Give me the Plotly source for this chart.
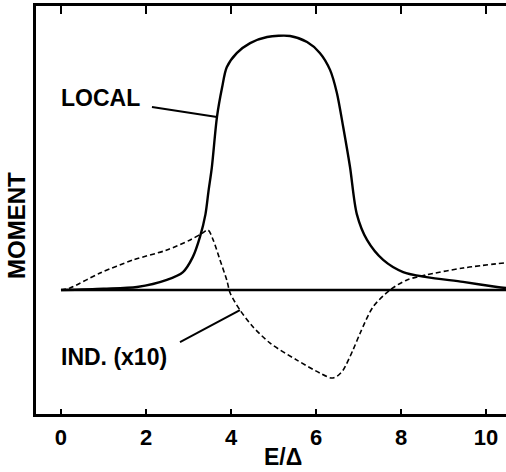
import plotly.graph_objects as go

# ---- data ----
local_x = [0, 1.0, 1.79, 2.49, 2.87, 3.1, 3.27, 3.4, 3.47, 3.55, 3.67, 3.79, 3.9, 4.14, 4.45, 4.85, 5.39, 5.79, 6.09, 6.33, 6.49, 6.64, 6.8, 6.96, 7.2, 7.58, 8.05, 8.6, 9.46, 10.26, 10.47]
local_y = [0, 0.005, 0.012, 0.04, 0.071, 0.13, 0.21, 0.30, 0.39, 0.486, 0.684, 0.8, 0.88, 0.937, 0.976, 1.0, 1.004, 0.98, 0.937, 0.87, 0.78, 0.644, 0.486, 0.30, 0.198, 0.119, 0.071, 0.051, 0.032, 0.012, 0.008]

ind_x = [0, 0.21, 0.92, 1.7, 2.49, 3.04, 3.3, 3.46, 3.58, 3.74, 3.9, 3.98, 4.21, 4.52, 4.92, 5.55, 6.09, 6.37, 6.5, 6.64, 6.87, 7.04, 7.34, 7.74, 8.14, 8.6, 9.46, 10.47]
ind_y = [0, 0.008, 0.067, 0.119, 0.158, 0.198, 0.222, 0.237, 0.198, 0.119, 0.04, -0.012, -0.079, -0.146, -0.21, -0.277, -0.328, -0.348, -0.34, -0.316, -0.237, -0.17, -0.067, 0, 0.04, 0.06, 0.087, 0.108]

base_x = [0, 10.47]
base_y = [0, 0]

x_ticks = [0, 2, 4, 6, 8, 10]
x_tick_labels = ["0", "2", "4", "6", "8", "10"]

local_label = "LOCAL"
ind_label = "IND. (x10)"
local_leader = [(2.14, 0.723), (3.67, 0.684)]
ind_leader = [(2.8, -0.206), (4.21, -0.079)]

x_range = [-0.588, 10.47]
y_range = [-0.490, 1.1225]

FONT = "Liberation Sans"

fig = go.Figure()
fig.add_trace(go.Scatter(x=base_x, y=base_y, mode="lines",
                         line=dict(color="black", width=2.5), hoverinfo="skip"))
fig.add_trace(go.Scatter(x=local_x, y=local_y, mode="lines",
                         line=dict(color="black", width=2.4, shape="spline", smoothing=0.8)))
fig.add_trace(go.Scatter(x=ind_x, y=ind_y, mode="lines",
                         line=dict(color="black", width=1.6, dash="5px,3px", shape="spline", smoothing=0.8)))
# invisible trace so the top axis is drawn
fig.add_trace(go.Scatter(x=[x_range[0]], y=[0], xaxis="x2", mode="markers",
                         marker=dict(opacity=0), hoverinfo="skip"))

for (p0, p1) in [local_leader, ind_leader]:
    fig.add_shape(type="line", xref="x", yref="y", x0=p0[0], y0=p0[1], x1=p1[0], y1=p1[1],
                  line=dict(color="black", width=2))

W, H = 506, 472
ml, mr, mt, mb = 36, 0, 6, 58
pw, ph = W - ml - mr, H - mt - mb

def px_to_paper(px, py):
    return (px - ml) / pw, 1 - (py - mt) / ph

fig.add_annotation(x=-0.04, y=0.757, xref="x", yref="y", text=local_label, showarrow=False,
                   xanchor="left", yanchor="middle",
                   font=dict(family=FONT, size=23, color="black", weight="bold"))
fig.add_annotation(x=-0.04, y=-0.265, xref="x", yref="y", text=ind_label, showarrow=False,
                   xanchor="left", yanchor="middle",
                   font=dict(family=FONT, size=23, color="black", weight="bold"))
mx, my = px_to_paper(16, 226)
fig.add_annotation(x=mx, y=my, xref="paper", yref="paper", text="MOMENT", showarrow=False,
                   textangle=-90, xanchor="center", yanchor="middle",
                   font=dict(family=FONT, size=24, color="black", weight="bold"))
ex, ey = px_to_paper(283, 457)
fig.add_annotation(x=ex, y=ey, xref="paper", yref="paper", text="E/Δ", showarrow=False,
                   xanchor="center", yanchor="middle",
                   font=dict(family=FONT, size=23, color="black", weight="bold"))

fig.update_layout(
    width=W, height=H,
    margin=dict(l=ml, r=mr, t=mt, b=mb, pad=0, autoexpand=False),
    paper_bgcolor="white", plot_bgcolor="white",
    showlegend=False,
    xaxis=dict(range=x_range, tickvals=x_ticks, ticktext=x_tick_labels,
               ticks="inside", ticklen=5, tickwidth=2, tickcolor="black",
               showline=True, linecolor="black", linewidth=3,
               showgrid=False, zeroline=False, ticklabelstandoff=2, automargin=False,
               tickfont=dict(family=FONT, size=22, color="black", weight="bold")),
    xaxis2=dict(range=x_range, overlaying="x", side="top", anchor="y",
                tickvals=x_ticks, showticklabels=False, automargin=False,
                ticks="inside", ticklen=8, tickwidth=2, tickcolor="black",
                showline=True, linecolor="black", linewidth=3,
                showgrid=False, zeroline=False),
    yaxis=dict(range=y_range, showticklabels=False, ticks="", automargin=False,
               showline=True, linecolor="black", linewidth=3,
               showgrid=False, zeroline=False),
)

fig.write_html("out.html", config={"displayModeBar": False},
               post_script="document.body.style.margin='0';document.body.style.overflow='hidden';")
